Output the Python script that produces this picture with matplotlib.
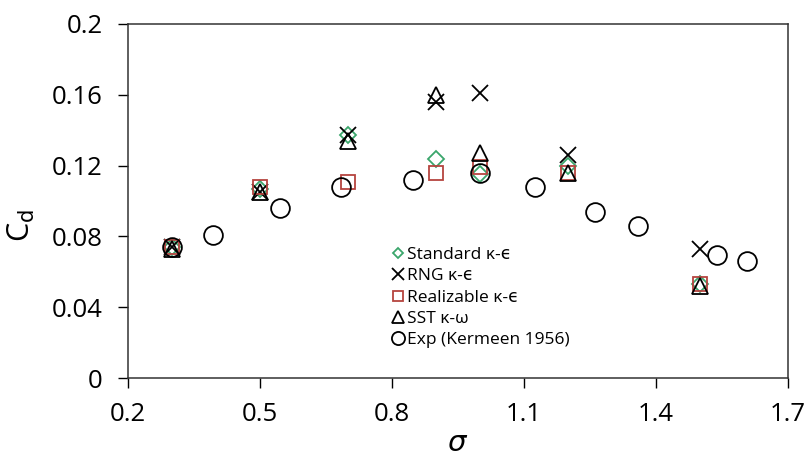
import matplotlib
matplotlib.use("Agg")
from matplotlib import pyplot as plt

plt.rcParams['font.family'] = ['Open Sans', 'DejaVu Sans']
plt.rcParams['mathtext.fontset'] = 'dejavusans'

# CFD model results
sigma_std = [0.3, 0.5, 0.7, 0.9, 1.0, 1.2, 1.5]
cd_std = [0.074, 0.107, 0.137, 0.124, 0.115, 0.120, 0.053]

sigma_rng = [0.3, 0.5, 0.7, 0.9, 1.0, 1.2, 1.5]
cd_rng = [0.074, 0.105, 0.137, 0.156, 0.161, 0.126, 0.073]

sigma_real = [0.3, 0.5, 0.7, 0.9, 1.0, 1.2, 1.5]
cd_real = [0.074, 0.108, 0.111, 0.116, 0.119, 0.116, 0.053]

sigma_sst = [0.3, 0.5, 0.7, 0.9, 1.0, 1.2, 1.5]
cd_sst = [0.073, 0.105, 0.134, 0.160, 0.127, 0.116, 0.052]

# experiment
sigma_exp = [0.3, 0.393, 0.545, 0.684, 0.848, 1.0, 1.125, 1.261, 1.359, 1.538, 1.607]
cd_exp = [0.074, 0.081, 0.096, 0.108, 0.112, 0.116, 0.108, 0.094, 0.086, 0.0695, 0.066]

x_ticks = [0.2, 0.5, 0.8, 1.1, 1.4, 1.7]
y_ticks = [0, 0.04, 0.08, 0.12, 0.16, 0.2]
y_tick_labels = ["0", "0.04", "0.08", "0.12", "0.16", "0.2"]

fig = plt.figure(figsize=(8.09, 4.61), dpi=100)
ax = fig.add_axes([0.158, 0.180, 0.816, 0.768])

ax.plot(sigma_std, cd_std, linestyle='none', marker='D', markersize=8,
        markerfacecolor='none', markeredgecolor='#3aa66b', markeredgewidth=1.3,
        label='Standard κ-ϵ')
ax.plot(sigma_rng, cd_rng, linestyle='none', marker='x', markersize=12,
        color='black', markeredgewidth=1.3, label='RNG κ-ϵ')
ax.plot(sigma_real, cd_real, linestyle='none', marker='s', markersize=10,
        markerfacecolor='none', markeredgecolor='#b5443f', markeredgewidth=1.3,
        label='Realizable κ-ϵ')
ax.plot(sigma_sst, cd_sst, linestyle='none', marker='^', markersize=12,
        markerfacecolor='none', markeredgecolor='black', markeredgewidth=1.3,
        label='SST κ-ω')
ax.plot(sigma_exp, cd_exp, linestyle='none', marker='o', markersize=13.5,
        markerfacecolor='none', markeredgecolor='black', markeredgewidth=1.3,
        label='Exp (Kermeen 1956)')

ax.set_xlim(0.2, 1.7)
ax.set_ylim(0, 0.2)
ax.set_xticks(x_ticks)
ax.set_xticklabels([str(t) for t in x_ticks])
ax.set_yticks(y_ticks)
ax.set_yticklabels(y_tick_labels)
ax.tick_params(axis='both', labelsize=18.5, direction='out', length=7, width=1)
ax.tick_params(axis='y', pad=11)
ax.tick_params(axis='x', pad=10)

for s in ax.spines.values():
    s.set_linewidth(1.1)
    s.set_color('#333333')

ax.set_xlabel(r'$\sigma$', fontsize=21, labelpad=2)
ax.set_ylabel(r'C$_\mathrm{d}$', fontsize=22)
ax.yaxis.set_label_coords(-0.138, 0.43)

leg = ax.legend(loc='upper left', bbox_to_anchor=(0.385, 0.39), frameon=False,
                fontsize=12.5, handletextpad=0.05, handlelength=1.0,
                labelspacing=0.3, borderaxespad=0, markerscale=0.7)

fig.savefig('out.png', dpi=100)
